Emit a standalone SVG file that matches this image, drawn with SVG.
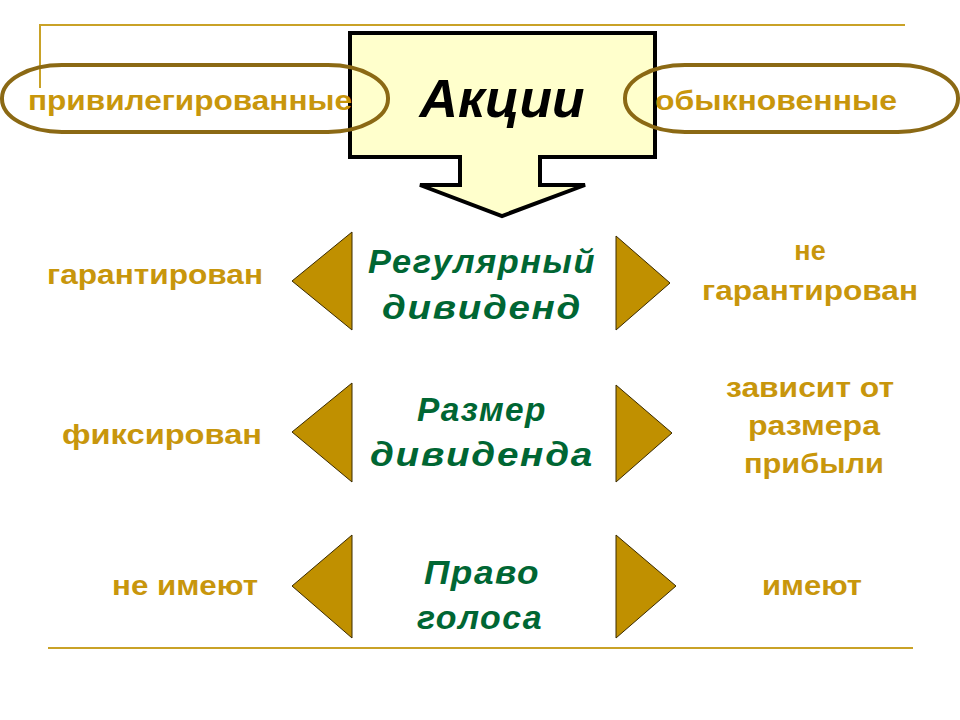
<svg xmlns="http://www.w3.org/2000/svg" width="960" height="720" viewBox="0 0 960 720">
<style>
.g{fill:#C8960C;font-family:"Liberation Sans",Arial,sans-serif;font-weight:bold;font-size:27px;text-anchor:middle}
.m{fill:#006633;font-family:"Liberation Sans",Arial,sans-serif;font-weight:bold;font-style:italic;font-size:34px;text-anchor:middle;letter-spacing:1.5px}
.t{fill:#C09000;stroke:#3a2a00;stroke-width:1}
.pill{fill:none;stroke:#8B6914;stroke-width:4}
.ln{stroke:#C9A227;stroke-width:2;fill:none}
</style>
<g id="frame">
<polyline class="ln" points="40,88 40,25 905,25"/>
<line class="ln" x1="48" y1="648" x2="913" y2="648"/>
</g>
<g id="main">
<path d="M350,33 H655 V157 H540 V185 H585 L502,216 L420,185 H460 V157 H350 Z" fill="#FFFFCC" stroke="#000" stroke-width="4"/>
<text x="502" y="117" font-family="'Liberation Sans',Arial,sans-serif" font-weight="bold" font-style="italic" font-size="54" text-anchor="middle" textLength="165" lengthAdjust="spacingAndGlyphs">Акции</text>
</g>
<g id="priv"><rect class="pill" x="2" y="65" width="386" height="67" rx="60" ry="33"/><text class="g" x="190" y="110" textLength="324" lengthAdjust="spacingAndGlyphs">привилегированные</text></g>
<g id="obyk"><rect class="pill" x="625" y="65" width="333" height="67" rx="60" ry="33"/><text class="g" x="776" y="110" textLength="242" lengthAdjust="spacingAndGlyphs">обыкновенные</text></g>
<g id="row1">
<polygon class="t" points="352,232 352,330 292,281"/><polygon class="t" points="616,236 616,330 670,283"/>
<text class="m" x="482" y="273" textLength="228" lengthAdjust="spacingAndGlyphs">Регулярный</text><text class="m" x="482" y="319" textLength="200" lengthAdjust="spacingAndGlyphs">дивиденд</text>
<text class="g" x="155" y="284" textLength="216" lengthAdjust="spacingAndGlyphs">гарантирован</text>
<text class="g" x="810" y="260">не</text><text class="g" x="810" y="300" textLength="216" lengthAdjust="spacingAndGlyphs">гарантирован</text>
</g>
<g id="row2">
<polygon class="t" points="352,383 352,482 292,432"/><polygon class="t" points="616,385 616,482 672,433"/>
<text class="m" x="482" y="421" textLength="130" lengthAdjust="spacingAndGlyphs">Размер</text><text class="m" x="482" y="466" textLength="224" lengthAdjust="spacingAndGlyphs">дивиденда</text>
<text class="g" x="162" y="444" textLength="200" lengthAdjust="spacingAndGlyphs">фиксирован</text>
<text class="g" x="810" y="397" textLength="168" lengthAdjust="spacingAndGlyphs">зависит от</text><text class="g" x="814" y="435" textLength="132" lengthAdjust="spacingAndGlyphs">размера</text><text class="g" x="814" y="473" textLength="140" lengthAdjust="spacingAndGlyphs">прибыли</text>
</g>
<g id="row3">
<polygon class="t" points="352,535 352,638 292,586"/><polygon class="t" points="616,535 616,638 676,586"/>
<text class="m" x="482" y="584" textLength="116" lengthAdjust="spacingAndGlyphs">Право</text><text class="m" x="480" y="629" textLength="126" lengthAdjust="spacingAndGlyphs">голоса</text>
<text class="g" x="185" y="595" textLength="146" lengthAdjust="spacingAndGlyphs">не имеют</text>
<text class="g" x="812" y="595" textLength="100" lengthAdjust="spacingAndGlyphs">имеют</text>
</g>
</svg>
